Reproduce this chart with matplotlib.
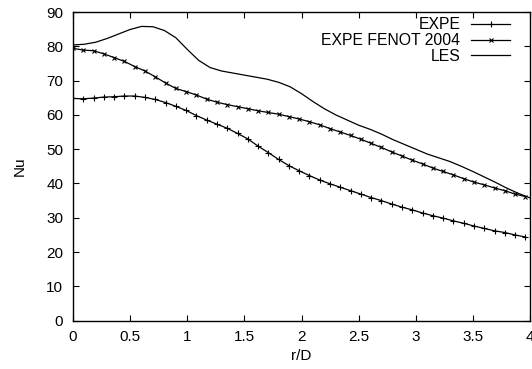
import matplotlib
matplotlib.use("Agg")
import matplotlib.pyplot as plt

plt.rcParams['font.family'] = ['Liberation Sans', 'DejaVu Sans']

r_expe = [0.00, 0.09, 0.18, 0.27, 0.36, 0.45, 0.54, 0.63, 0.72, 0.81, 0.90, 0.99,
          1.08, 1.17, 1.26, 1.35, 1.44, 1.53, 1.62, 1.71, 1.80, 1.89, 1.98, 2.07,
          2.16, 2.25, 2.34, 2.43, 2.52, 2.61, 2.70, 2.79, 2.88, 2.97, 3.06, 3.15,
          3.24, 3.33, 3.42, 3.51, 3.60, 3.69, 3.78, 3.87, 3.96]
nu_expe = [64.8, 64.7, 64.9, 65.2, 65.3, 65.5, 65.5, 65.1, 64.5, 63.6, 62.5, 61.3,
           59.8, 58.5, 57.3, 56.1, 54.6, 53.0, 50.9, 49.0, 47.0, 45.2, 43.7, 42.3,
           41.0, 39.9, 38.9, 37.9, 36.9, 35.9, 35.0, 34.0, 33.1, 32.3, 31.4, 30.6,
           29.9, 29.1, 28.4, 27.6, 26.9, 26.2, 25.7, 25.0, 24.4]

r_fenot = r_expe
nu_fenot = [79.4, 78.9, 78.7, 77.8, 76.7, 75.6, 74.1, 72.8, 71.1, 69.3, 67.7, 66.8,
            65.8, 64.6, 63.7, 63.0, 62.4, 61.8, 61.2, 60.7, 60.2, 59.5, 58.8, 58.0,
            57.1, 56.0, 55.0, 54.0, 52.9, 51.7, 50.5, 49.2, 48.0, 46.8, 45.7, 44.5,
            43.5, 42.5, 41.4, 40.4, 39.6, 38.7, 37.9, 36.9, 36.2]

r_les = [0.0, 0.1, 0.2, 0.3, 0.4, 0.5, 0.6, 0.7, 0.8, 0.9, 1.0, 1.1, 1.2, 1.3,
         1.4, 1.5, 1.6, 1.7, 1.8, 1.9, 2.0, 2.1, 2.2, 2.3, 2.4, 2.5, 2.6, 2.7,
         2.8, 2.9, 3.0, 3.1, 3.2, 3.3, 3.4, 3.5, 3.6, 3.7, 3.8, 3.9, 4.0]
nu_les = [80.4, 80.6, 81.2, 82.3, 83.6, 84.9, 85.8, 85.7, 84.6, 82.5, 79.1, 75.9,
          73.8, 72.8, 72.2, 71.6, 71.0, 70.4, 69.5, 68.2, 66.2, 63.9, 61.8, 60.0,
          58.5, 57.0, 55.8, 54.4, 52.8, 51.4, 50.0, 48.6, 47.5, 46.4, 45.0, 43.5,
          41.9, 40.3, 38.6, 37.1, 35.8]

xticks = [0, 0.5, 1, 1.5, 2, 2.5, 3, 3.5, 4]
xticklabels = ['0', '0.5', '1', '1.5', '2', '2.5', '3', '3.5', '4']
yticks = [0, 10, 20, 30, 40, 50, 60, 70, 80, 90]

fig = plt.figure(figsize=(5.32, 3.69), dpi=100)
ax = fig.add_axes([73/532, (369-320.7)/369, (530-73)/532, (320.7-12)/369])

ax.plot(r_expe, nu_expe, color='black', lw=0.9, marker='+', ms=4, mew=0.8, label='EXPE')
ax.plot(r_fenot, nu_fenot, color='black', lw=0.9, marker='x', ms=3, mew=0.8, label='EXPE FENOT 2004')
ax.plot(r_les, nu_les, color='black', lw=0.9, label='LES')

ax.set_xlim(0, 4)
ax.set_ylim(0, 90)
ax.set_xticks(xticks)
ax.set_xticklabels(xticklabels)
ax.set_yticks(yticks)
ax.tick_params(direction='in', top=True, right=True, length=4, width=0.8,
               labelsize=11, pad=7)
for s in ax.spines.values():
    s.set_linewidth(1.0)
ax.set_xlabel('r/D', fontsize=11, labelpad=3)
ax.set_ylabel('Nu', fontsize=11, labelpad=14)

leg = ax.legend(loc='upper right', frameon=False, markerfirst=False, fontsize=11.3,
                handlelength=2.45, labelspacing=0.05, borderaxespad=0, borderpad=0,
                handletextpad=0.7, bbox_to_anchor=(0.956, 0.983))

fig.savefig('out.png', dpi=100)
